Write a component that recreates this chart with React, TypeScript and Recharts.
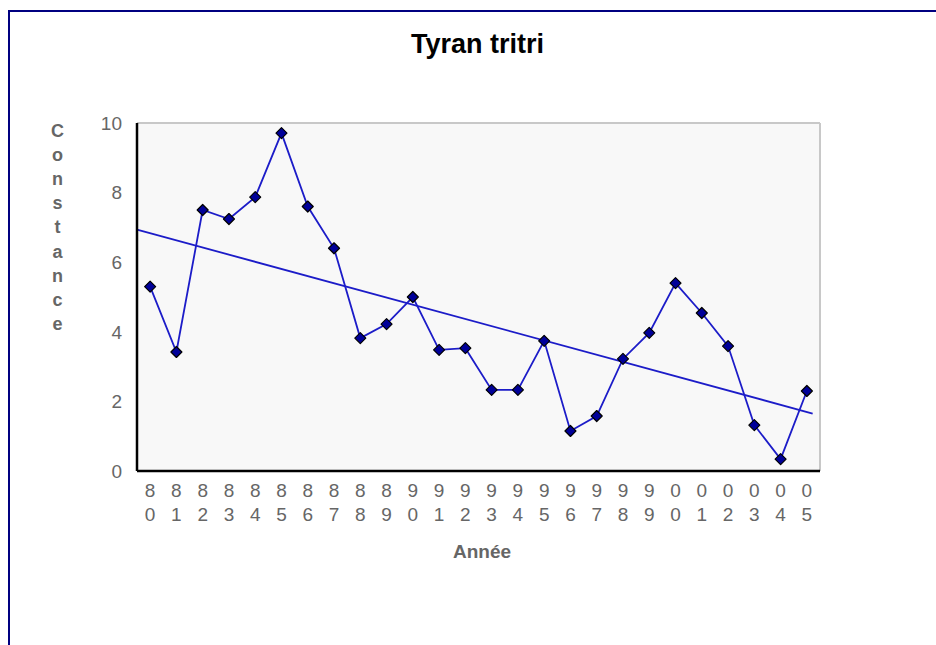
import React from 'react';
import { LineChart, Line, XAxis, YAxis, ReferenceArea, ReferenceLine } from 'recharts';

// Years shown as two stacked digits under the axis
const years = ['80', '81', '82', '83', '84', '85', '86', '87', '88', '89', '90', '91', '92',
  '93', '94', '95', '96', '97', '98', '99', '00', '01', '02', '03', '04', '05'];
const constance = [5.3, 3.42, 7.5, 7.24, 7.87, 9.71, 7.6, 6.4, 3.82, 4.22, 5.0, 3.48, 3.53,
  2.33, 2.33, 3.74, 1.15, 1.58, 3.22, 3.97, 5.4, 4.54, 3.59, 1.32, 0.34, 2.3];
const yTicks = [0, 2, 4, 6, 8, 10];
const title = 'Tyran tritri';
const xTitle = 'Année';
const yTitle = 'Constance';

// the trend line runs from the left edge of the plot to just before the right edge
const trendFrom = -0.5;
const trendTo = 25.22;

const FONT = '"Liberation Sans", Arial, sans-serif';
const BLUE = '#1c1cc8';

const rows = years.map((y, i) => ({ i, year: y, v: constance[i] }));

// least squares fit over the series
const n = constance.length;
const mx = (n - 1) / 2;
const my = constance.reduce((s, v) => s + v, 0) / n;
let sxy = 0;
let sxx = 0;
constance.forEach((v, i) => {
  sxy += (i - mx) * (v - my);
  sxx += (i - mx) * (i - mx);
});
const slope = sxy / sxx;
const trendRows = [trendFrom, trendTo].map((x) => ({ i: x, t: my + slope * (x - mx) }));

const Diamond = (props: any) => {
  const { cx, cy } = props;
  if (cx == null || cy == null) return null;
  const r = 5.5;
  return (
    <polygon
      points={`${cx},${cy - r} ${cx + r},${cy} ${cx},${cy + r} ${cx - r},${cy}`}
      fill="#000099"
      stroke="#000"
      strokeWidth={1.2}
      strokeLinejoin="round"
    />
  );
};

const YearTick = (props: any) => {
  const { x, y, payload } = props;
  const s = years[payload.value];
  if (!s) return null;
  return (
    <text x={x} y={y} textAnchor="middle" fill="#666" fontSize={19} fontFamily={FONT}>
      <tspan x={x} dy={26}>{s[0]}</tspan>
      <tspan x={x} dy={23.5}>{s[1]}</tspan>
    </text>
  );
};

export default function App() {
  return (
    <div style={{ position: 'absolute', left: 0, top: 0, width: 936, height: 645, background: '#fff' }}>
      <div
        style={{
          position: 'absolute',
          left: 8,
          top: 10,
          width: 928,
          height: 635,
          boxSizing: 'border-box',
          borderLeft: '2px solid #000080',
          borderTop: '2px solid #000080',
        }}
      />
      <div style={{ position: 'absolute', left: 0, top: 0 }}>
        <LineChart
          width={936}
          height={645}
          data={rows}
          margin={{ top: 123, right: 116, left: 77, bottom: 114 }}
        >
          <ReferenceArea x1={-0.5} x2={25.5} y1={0} y2={10} fill="#f8f8f8" fillOpacity={1} stroke="none" />
          <ReferenceLine y={10} stroke="#c8c8c8" strokeWidth={2} />
          <ReferenceLine x={25.5} stroke="#c8c8c8" strokeWidth={2} />
          <XAxis
            dataKey="i"
            type="number"
            domain={[-0.5, 25.5]}
            ticks={years.map((_, i) => i)}
            interval={0}
            height={60}
            tickLine={false}
            tickSize={0}
            tickMargin={0}
            axisLine={{ stroke: '#000', strokeWidth: 2.5 }}
            tick={<YearTick />}
          />
          <YAxis
            domain={[0, 10]}
            ticks={yTicks}
            width={60}
            tickLine={false}
            tickSize={0}
            tickMargin={15}
            axisLine={{ stroke: '#000', strokeWidth: 2.5 }}
            tick={{ fill: '#666', fontSize: 19, fontFamily: FONT }}
          />
          <Line
            data={trendRows}
            dataKey="t"
            type="linear"
            stroke={BLUE}
            strokeWidth={1.8}
            dot={false}
            activeDot={false}
            isAnimationActive={false}
          />
          <Line
            dataKey="v"
            type="linear"
            stroke={BLUE}
            strokeWidth={1.8}
            dot={<Diamond />}
            activeDot={false}
            isAnimationActive={false}
          />
        </LineChart>
      </div>
      <svg
        width={936}
        height={645}
        style={{ position: 'absolute', left: 0, top: 0, pointerEvents: 'none' }}
      >
        <text x={477.5} y={53} textAnchor="middle" fontSize={27} fontWeight="bold" fontFamily={FONT} fill="#000">
          {title}
        </text>
        <text x={482} y={558} textAnchor="middle" fontSize={19} fontWeight="bold" fontFamily={FONT} fill="#666">
          {xTitle}
        </text>
        {yTitle.split('').map((ch, k) => (
          <text
            key={k}
            x={57.5}
            y={137 + k * 24.1}
            textAnchor="middle"
            fontSize={18}
            fontWeight="bold"
            fontFamily={FONT}
            fill="#666"
          >
            {ch}
          </text>
        ))}
      </svg>
    </div>
  );
}
